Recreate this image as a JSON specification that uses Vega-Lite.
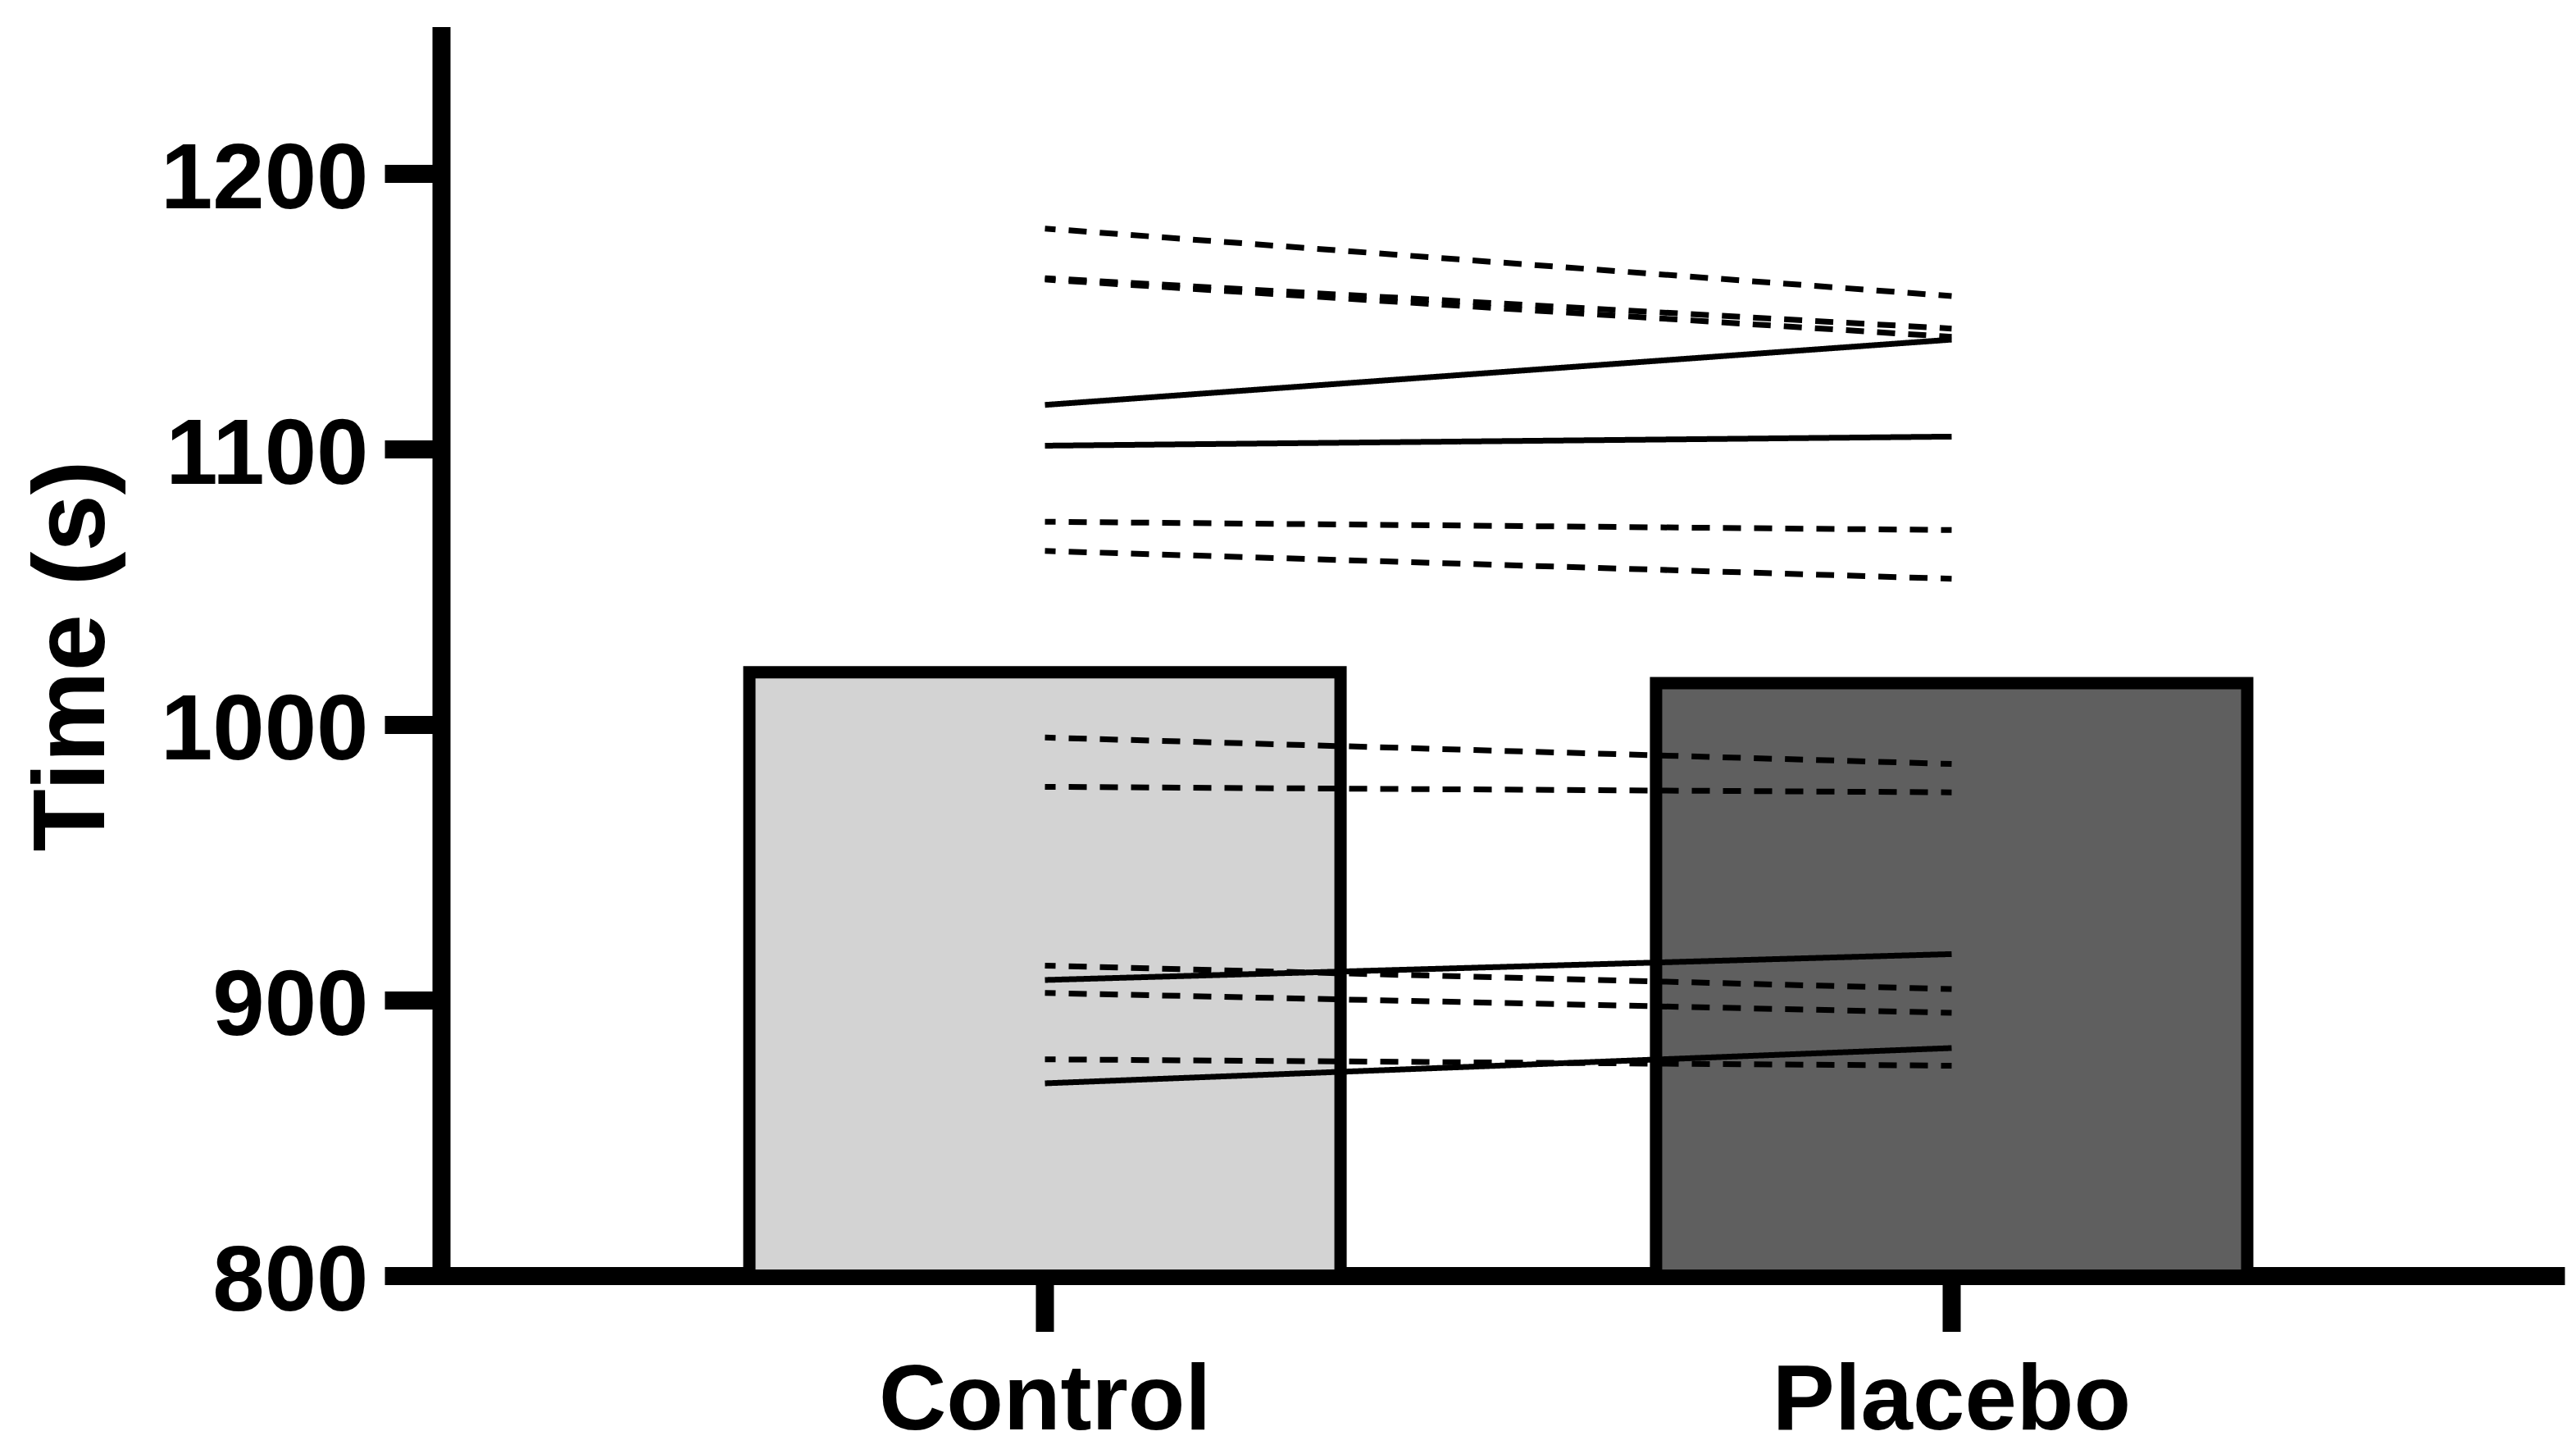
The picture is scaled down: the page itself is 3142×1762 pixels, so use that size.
{
  "$schema": "https://vega.github.io/schema/vega-lite/v6.json",
  "description": "Time (s) for Control vs Placebo: mean bars with paired individual lines.",
  "autosize": "none",
  "width": 2579,
  "height": 1512,
  "padding": {"left": 538, "top": 43.5, "right": 25, "bottom": 206.5},
  "background": "white",
  "datasets": {
    "means": [
      {"group": "Control", "time": 1019},
      {"group": "Placebo", "time": 1015}
    ],
    "subjects": [
      {"id": 1, "type": "dashed", "group": "Control", "time": 1180},
      {"id": 1, "type": "dashed", "group": "Placebo", "time": 1155.5},
      {"id": 2, "type": "dashed", "group": "Control", "time": 1162},
      {"id": 2, "type": "dashed", "group": "Placebo", "time": 1143.7},
      {"id": 3, "type": "dashed", "group": "Control", "time": 1161.5},
      {"id": 3, "type": "dashed", "group": "Placebo", "time": 1140.7},
      {"id": 4, "type": "solid", "group": "Control", "time": 1116},
      {"id": 4, "type": "solid", "group": "Placebo", "time": 1139.7},
      {"id": 5, "type": "solid", "group": "Control", "time": 1101.2},
      {"id": 5, "type": "solid", "group": "Placebo", "time": 1104.5},
      {"id": 6, "type": "dashed", "group": "Control", "time": 1073.6},
      {"id": 6, "type": "dashed", "group": "Placebo", "time": 1070.6},
      {"id": 7, "type": "dashed", "group": "Control", "time": 1063},
      {"id": 7, "type": "dashed", "group": "Placebo", "time": 1052.9},
      {"id": 8, "type": "dashed", "group": "Control", "time": 995.3},
      {"id": 8, "type": "dashed", "group": "Placebo", "time": 985.7},
      {"id": 9, "type": "dashed", "group": "Control", "time": 977.4},
      {"id": 9, "type": "dashed", "group": "Placebo", "time": 975.4},
      {"id": 10, "type": "dashed", "group": "Control", "time": 912.5},
      {"id": 10, "type": "dashed", "group": "Placebo", "time": 904},
      {"id": 11, "type": "solid", "group": "Control", "time": 907.3},
      {"id": 11, "type": "solid", "group": "Placebo", "time": 916.7},
      {"id": 12, "type": "dashed", "group": "Control", "time": 902.6},
      {"id": 12, "type": "dashed", "group": "Placebo", "time": 895.4},
      {"id": 13, "type": "dashed", "group": "Control", "time": 878.5},
      {"id": 13, "type": "dashed", "group": "Placebo", "time": 876.2},
      {"id": 14, "type": "solid", "group": "Control", "time": 869.8},
      {"id": 14, "type": "solid", "group": "Placebo", "time": 882.6}
    ]
  },
  "encoding": {
    "x": {
      "field": "group",
      "type": "nominal",
      "scale": {"domain": ["Control", "Placebo"], "paddingInner": 0.348, "paddingOuter": 0.34},
      "axis": {
        "title": null,
        "labelAngle": 0,
        "labelFontSize": 114,
        "labelPadding": 29,
        "tickSize": 68
      }
    },
    "y": {
      "field": "time",
      "type": "quantitative",
      "scale": {"domain": [800, 1250], "nice": false, "zero": false},
      "axis": {
        "title": "Time (s)",
        "values": [800, 900, 1000, 1100, 1200],
        "format": "d",
        "labelFontSize": 114,
        "labelPadding": 20,
        "labelOffset": 8,
        "tickSize": 69,
        "titleFontSize": 125,
        "titleAngle": -90,
        "titleBaseline": "alphabetic",
        "titleAlign": "center",
        "titleX": -412,
        "titleY": 756
      }
    }
  },
  "layer": [
    {
      "data": {"name": "means"},
      "mark": {"type": "bar", "stroke": "black", "strokeWidth": 15},
      "encoding": {
        "y2": {"datum": 800},
        "fill": {
          "field": "group",
          "type": "nominal",
          "scale": {"domain": ["Control", "Placebo"], "range": ["#d3d3d3", "#5f5f5f"]},
          "legend": null
        }
      }
    },
    {
      "data": {"name": "subjects"},
      "mark": {"type": "line", "stroke": "black", "strokeWidth": 7, "strokeDashOffset": 9},
      "encoding": {
        "detail": {"field": "id", "type": "nominal"},
        "strokeDash": {
          "field": "type",
          "type": "nominal",
          "scale": {"domain": ["solid", "dashed"], "range": [[1, 0], [22, 16]]},
          "legend": null
        }
      }
    }
  ],
  "config": {
    "view": {"stroke": null},
    "axis": {
      "grid": false,
      "zindex": 1,
      "domainColor": "black",
      "domainWidth": 22,
      "domainCap": "square",
      "tickColor": "black",
      "tickWidth": 22,
      "labelLimit": 0,
      "labelFont": "Liberation Sans",
      "labelFontWeight": "bold",
      "labelColor": "black",
      "titleFont": "Liberation Sans",
      "titleFontWeight": "bold",
      "titleColor": "black"
    }
  }
}
